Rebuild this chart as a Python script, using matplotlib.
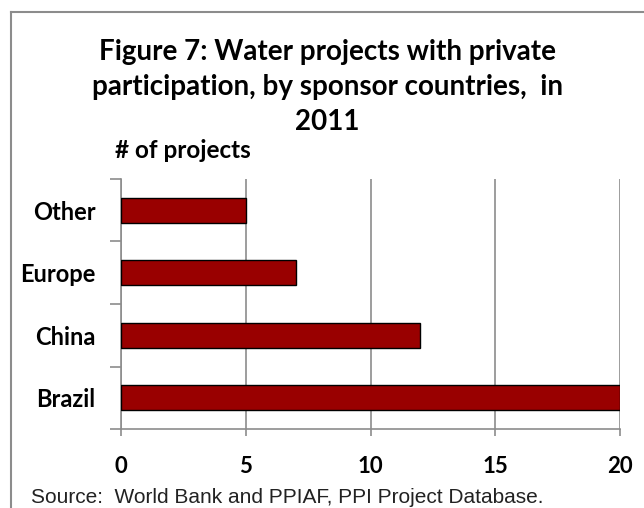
import matplotlib
matplotlib.use('Agg')
from matplotlib import pyplot as plt
from matplotlib.lines import Line2D

# Data
categories = ['Brazil', 'China', 'Europe', 'Other']
projects = [20, 12, 7, 5]
xTicks = [0, 5, 10, 15, 20]

titleLines = ['Figure 7: Water projects with private',
	'participation, by sponsor countries,  in',
	'2011']
unitText = '# of projects'
sourceText = 'Source:  World Bank and PPIAF, PPI Project Database.'

boldFont = ['Lato', 'DejaVu Sans']
gridGray = '#8c8c8c'

fig = plt.figure(figsize=(6.44, 5.08), dpi=100)
ax = fig.add_axes([121/644, 1 - 429/508, 499/644, 250/508])

yPos = list(range(len(categories)))
ax.barh(yPos, projects, height=0.4, color='#990000', edgecolor='black', linewidth=1.0, zorder=3)

ax.set_xlim(0, 20)
ax.set_ylim(-0.5, len(categories) - 0.5)
ax.set_xticks(xTicks)
ax.set_xticklabels([str(t) for t in xTicks], fontsize=16, fontweight='bold', family=boldFont)
ax.set_yticks(yPos)
ax.set_yticklabels(categories, fontsize=17, fontweight='bold', family=boldFont)
ax.set_yticks([y - 0.5 for y in range(len(categories) + 1)], minor=True)
ax.tick_params(axis='y', which='major', length=0, pad=18.5)
ax.tick_params(axis='y', which='minor', length=8, width=1.2, color=gridGray)
ax.tick_params(axis='x', which='major', length=5, width=1.2, color=gridGray, pad=14.5)
ax.grid(axis='x', color=gridGray, linewidth=1.2, zorder=0)
for side in ['top', 'right']:
	ax.spines[side].set_visible(False)
for side in ['left', 'bottom']:
	ax.spines[side].set_color(gridGray)
	ax.spines[side].set_linewidth(1.2)

# Title, one baseline per line
for i, line in enumerate(titleLines):
	fig.text(327.5/644, 1 - (60 + 35*i)/508, line, ha='center', va='baseline', fontsize=20,
		fontweight='bold', family=boldFont)
fig.text(115/644, 1 - 158/508, unitText, ha='left', va='baseline', fontsize=17.5, fontweight='bold', family=boldFont)
fig.text(31/644, 1 - 503/508, sourceText, ha='left', va='baseline', fontsize=15,
	family=['Liberation Sans', 'DejaVu Sans'], color='#222222')

# Chart frame (top and left edges only, as in the reference crop)
fig.add_artist(Line2D([10.5/644, 1], [1 - 11.5/508, 1 - 11.5/508], color=gridGray, linewidth=1.5))
fig.add_artist(Line2D([10.5/644, 10.5/644], [0, 1 - 11.5/508], color=gridGray, linewidth=1.5))

plt.savefig('out.png', dpi=100)
